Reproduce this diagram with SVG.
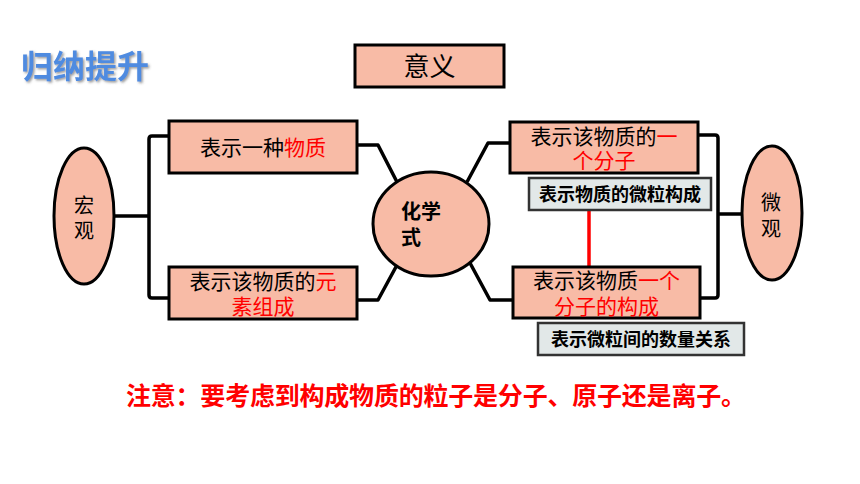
<svg xmlns="http://www.w3.org/2000/svg" width="860" height="484" viewBox="0 0 860 484">
<defs>
<style>
.box{fill:#F8BBA6;stroke:#000;stroke-width:3}
.gbox{fill:#E2E8E8;stroke:#333;stroke-width:2.5}
.ln{fill:none;stroke:#000;stroke-width:3.5;stroke-linejoin:round}
.t{font-family:"Liberation Sans","Noto Sans CJK SC",sans-serif;fill:#000}
.r{fill:#FF0000}
.b{font-weight:bold}
</style>
<filter id="sh" x="-10%" y="-10%" width="130%" height="140%">
<feDropShadow dx="1.5" dy="1.5" stdDeviation="0.8" flood-color="#555" flood-opacity="0.6"/>
</filter>
</defs>
<rect width="860" height="484" fill="#fff"/>
<g id="title">
<text class="t b" x="21" y="78" font-size="32" fill="#4F8BE0" style="fill:#4F8BE0" filter="url(#sh)">归纳提升</text>
</g>
<g id="connectors">
<path class="ln" d="M114,216 H149 M169,136 H152 Q149,136 149,139 V295 Q149,298 152,298 H169"/>
<path class="ln" d="M357,145 H378 L397,182"/>
<path class="ln" d="M357,300 H378 L397,265"/>
<path class="ln" d="M467,182 L488,143 H510"/>
<path class="ln" d="M470,263 L490,300 H513"/>
<path class="ln" d="M698,135 H715 Q718,135 718,138 V295 Q718,298 715,298 H700 M718,214 H742"/>
<line x1="589" y1="210" x2="589" y2="266" stroke="#FF0000" stroke-width="3.5"/>
</g>
<g id="meaning">
<rect class="box" x="355" y="45" width="149" height="42"/>
<text class="t" x="429.5" y="76" font-size="26" text-anchor="middle">意义</text>
</g>
<g id="macro">
<ellipse class="box" cx="84" cy="216" rx="30" ry="68"/>
<text class="t" x="84" y="213" font-size="20" text-anchor="middle">宏</text>
<text class="t" x="84" y="238" font-size="20" text-anchor="middle">观</text>
</g>
<g id="box-substance">
<rect class="box" x="169" y="121" width="188" height="52"/>
<text class="t" x="263" y="155" font-size="21" text-anchor="middle">表示一种<tspan class="r">物质</tspan></text>
</g>
<g id="box-elements">
<rect class="box" x="169" y="267" width="188" height="52"/>
<text class="t" x="263" y="289" font-size="21" text-anchor="middle">表示该物质的<tspan class="r">元</tspan></text>
<text class="t r" x="263" y="314" font-size="21" text-anchor="middle">素组成</text>
</g>
<g id="formula">
<ellipse class="box" cx="431" cy="224" rx="58" ry="52"/>
<text class="t b" x="401" y="219" font-size="20">化学</text>
<text class="t b" x="401" y="245" font-size="20">式</text>
</g>
<g id="box-molecule">
<rect class="box" x="510" y="122" width="188" height="51"/>
<text class="t" x="604" y="144" font-size="21" text-anchor="middle">表示该物质的<tspan class="r">一</tspan></text>
<text class="t r" x="604" y="168" font-size="21" text-anchor="middle">个分子</text>
</g>
<g id="note-micro">
<rect class="gbox" x="529" y="178" width="182" height="32"/>
<text class="t b" x="620" y="201" font-size="18" text-anchor="middle">表示物质的微粒构成</text>
</g>
<g id="box-structure">
<rect class="box" x="513" y="267" width="187" height="51"/>
<text class="t" x="606.5" y="288" font-size="21" text-anchor="middle">表示该物质<tspan class="r">一个</tspan></text>
<text class="t r" x="606.5" y="314" font-size="21" text-anchor="middle">分子的构成</text>
</g>
<g id="note-quantity">
<rect class="gbox" x="538" y="323" width="206" height="32"/>
<text class="t b" x="641" y="346" font-size="18" text-anchor="middle">表示微粒间的数量关系</text>
</g>
<g id="micro">
<ellipse class="box" cx="772" cy="213" rx="30" ry="67"/>
<text class="t" x="771" y="210" font-size="20" text-anchor="middle">微</text>
<text class="t" x="771" y="236" font-size="20" text-anchor="middle">观</text>
</g>
<g id="notice">
<text class="t b r" x="126" y="405" font-size="25" textLength="620" lengthAdjust="spacing">注意：要考虑到构成物质的粒子是分子、原子还是离子。</text>
</g>
</svg>
